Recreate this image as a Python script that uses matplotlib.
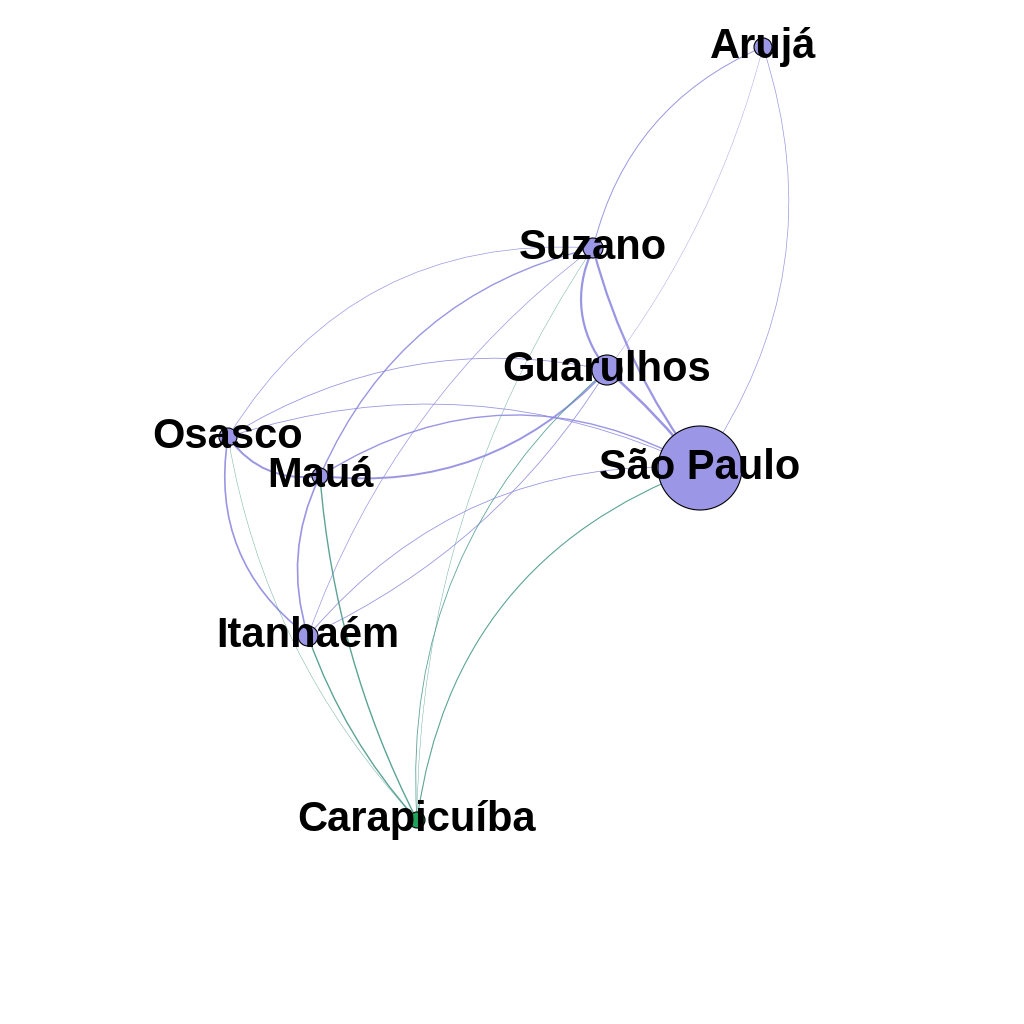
import matplotlib.pyplot as plt
from matplotlib.patches import FancyArrowPatch, Circle

# ---------- Data ----------
names = ["Arujá", "Suzano", "Guarulhos", "São Paulo", "Osasco", "Mauá", "Itanhaém", "Carapicuíba"]
xs = [763, 593, 607, 700, 228, 320, 308, 417]
ys = [47, 248, 370, 468, 437, 476, 636, 820]
sizes = [9, 10, 15, 42, 9, 8, 10, 8]
node_colors = ["#9b97e6"] * 7 + ["#1fa35a"]

edges = [
    ("Arujá", "Suzano", 0.7, 0.25), ("Arujá", "São Paulo", 0.5, -0.25),
    ("Arujá", "Guarulhos", 0.3, -0.1),
    ("Suzano", "São Paulo", 1.6, 0.1), ("Suzano", "Guarulhos", 1.6, 0.3),
    ("Suzano", "Osasco", 0.5, 0.3), ("Suzano", "Mauá", 1.0, 0.25),
    ("Suzano", "Itanhaém", 0.5, 0.15), ("Suzano", "Carapicuíba", 0.3, 0.15),
    ("Guarulhos", "São Paulo", 1.8, -0.05), ("Guarulhos", "Mauá", 1.4, -0.25),
    ("Guarulhos", "Osasco", 0.6, 0.2), ("Guarulhos", "Itanhaém", 0.6, -0.15),
    ("Guarulhos", "Carapicuíba", 0.6, 0.25),
    ("São Paulo", "Osasco", 0.6, 0.2), ("São Paulo", "Mauá", 1.0, 0.3),
    ("São Paulo", "Itanhaém", 0.6, 0.25), ("São Paulo", "Carapicuíba", 0.8, 0.3),
    ("Osasco", "Mauá", 1.4, 0.3), ("Osasco", "Itanhaém", 1.2, 0.3),
    ("Osasco", "Carapicuíba", 0.3, 0.15),
    ("Mauá", "Itanhaém", 1.2, 0.2), ("Mauá", "Carapicuíba", 1.0, 0.1),
    ("Itanhaém", "Carapicuíba", 1.0, 0.1),
]

pos = {n: (x, y) for n, x, y in zip(names, xs, ys)}

fig, ax = plt.subplots(figsize=(10.24, 10.24), dpi=100)
fig.subplots_adjust(0, 0, 1, 1)
ax.set_xlim(0, 1024)
ax.set_ylim(1024, 0)
ax.axis("off")

for a, b, w, rad in edges:
    col = "#4a9a8a" if "Carapicuíba" in (a, b) else "#8f8be0"
    p = FancyArrowPatch(pos[a], pos[b], connectionstyle=f"arc3,rad={rad}",
                        arrowstyle="-", lw=w, color=col, alpha=0.9, zorder=1)
    ax.add_patch(p)

for n, x, y, s, c in zip(names, xs, ys, sizes, node_colors):
    ax.add_patch(Circle((x, y), s, facecolor=c, edgecolor="black", lw=0.8, zorder=2))
    ax.text(x, y, n, ha="center", va="center", fontsize=30, fontweight="bold",
            family="Liberation Sans", zorder=3)

fig.savefig("out.png", dpi=100)
